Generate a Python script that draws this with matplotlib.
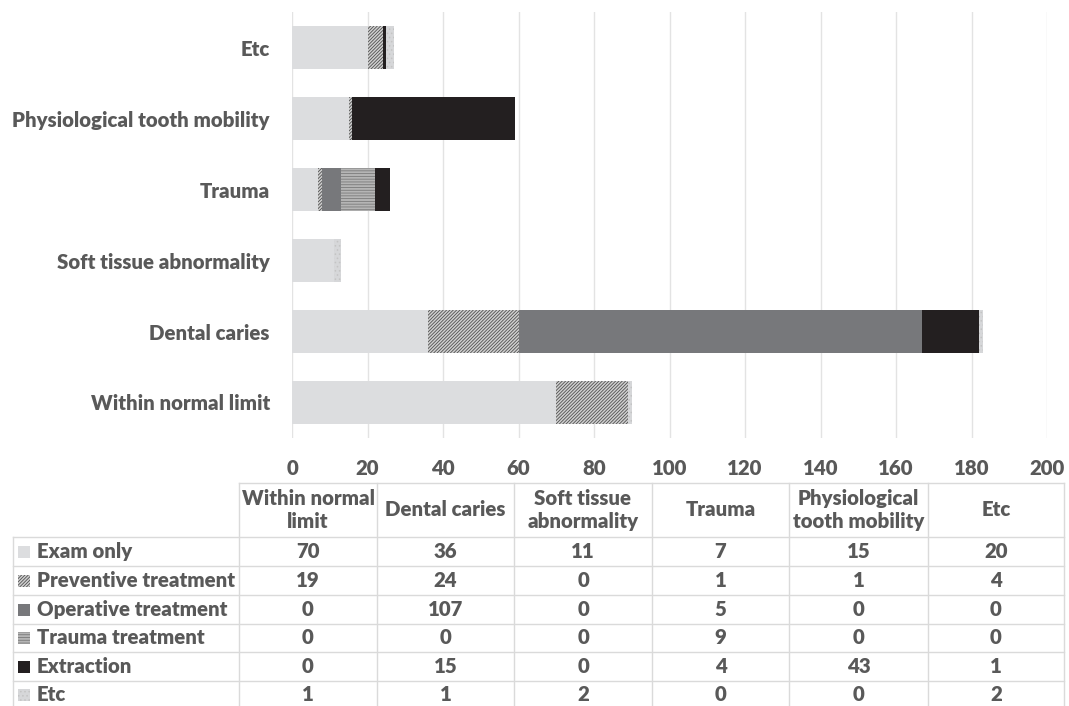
import matplotlib.pyplot as plt
from matplotlib.patches import Rectangle
import numpy as np

# data
categories = ['Within normal limit', 'Dental caries', 'Soft tissue abnormality',
              'Trauma', 'Physiological tooth mobility', 'Etc']
table_headers = ['Within normal\nlimit', 'Dental caries', 'Soft tissue\nabnormality',
                 'Trauma', 'Physiological\ntooth mobility', 'Etc']
series_names = ['Exam only', 'Preventive treatment', 'Operative treatment',
                'Trauma treatment', 'Extraction', 'Etc']
exam_only = [70, 36, 11, 7, 15, 20]
preventive = [19, 24, 0, 1, 1, 4]
operative = [0, 107, 0, 5, 0, 0]
trauma_tx = [0, 0, 0, 9, 0, 0]
extraction = [0, 15, 0, 4, 43, 1]
etc = [1, 1, 2, 0, 0, 2]
x_ticks = [0, 20, 40, 60, 80, 100, 120, 140, 160, 180, 200]

series = [exam_only, preventive, operative, trauma_tx, extraction, etc]
# (face, hatch colour, hatch)
styles = [
    ('#dcdddf', '#dcdddf', None),
    ('#d0d0d0', '#505050', '//////////'),
    ('#77787b', '#77787b', None),
    ('#b5b5b5', '#7a7a7a', '------'),
    ('#231f20', '#231f20', None),
    ('#d6d7d9', '#c4c4c4', '....'),
]

txt = '#595959'
plt.rcParams['font.family'] = ['Lato', 'DejaVu Sans']
plt.rcParams['hatch.linewidth'] = 0.6
fs = 14.7

W, H = 1069, 706
fig = plt.figure(figsize=(W / 100, H / 100), dpi=100)
ax = fig.add_axes([292 / W, 1 - 438 / H, (1047 - 292) / W, (438 - 12) / H])

y = np.arange(len(categories))
left = np.zeros(len(categories))
for vals, (fc, hc, hatch) in zip(series, styles):
    vals = np.array(vals, dtype=float)
    ax.barh(y, vals, left=left, height=0.6, color=fc, edgecolor=hc,
            hatch=hatch, linewidth=0, zorder=3)
    left += vals

ax.set_xlim(0, 200)
ax.set_ylim(-0.5, 5.5)
ax.set_xticks(x_ticks)
ax.set_xticklabels([str(t) for t in x_ticks], fontsize=fs, fontweight='heavy', color=txt)
ax.set_yticks(y)
ax.set_yticklabels(categories, fontsize=fs, fontweight='heavy', color=txt)
ax.tick_params(length=0, axis='y', pad=16)
ax.tick_params(length=0, axis='x', pad=15)
ax.grid(axis='x', color='#e3e3e3', linewidth=1, zorder=0)
for s in ax.spines.values():
    s.set_visible(False)

# data table drawn in pixel coordinates
tax = fig.add_axes([0, 0, 1, 1])
tax.set_xlim(0, W)
tax.set_ylim(H, 0)
tax.axis('off')

col_edges = [239, 377, 514, 652, 789, 928, 1064]
row_edges = [483, 537, 566, 595, 624, 652, 681, 710]
label_left = 13
line_c = '#dadada'

# horizontal lines
tax.plot([col_edges[0], col_edges[-1]], [row_edges[0]] * 2, color=line_c, lw=1)
for r in row_edges[1:-1]:
    tax.plot([label_left, col_edges[-1]], [r, r], color=line_c, lw=1)
# vertical lines
for c in col_edges:
    tax.plot([c, c], [row_edges[0], row_edges[-1]], color=line_c, lw=1)
tax.plot([label_left, label_left], [row_edges[1], row_edges[-1]], color=line_c, lw=1)

for j, h in enumerate(table_headers):
    cx = (col_edges[j] + col_edges[j + 1]) / 2
    cy = (row_edges[0] + row_edges[1]) / 2
    tax.text(cx, cy, h, ha='center', va='center', fontsize=fs, fontweight='heavy',
             color=txt, linespacing=1.25)

for i, (name, vals, (fc, hc, hatch)) in enumerate(zip(series_names, series, styles)):
    top = row_edges[i + 1]
    cy = (row_edges[i + 1] + row_edges[i + 2]) / 2
    if i == len(series_names) - 1:
        cy = (top + 706) / 2 + 1
    tax.add_patch(Rectangle((18, cy - 6), 12, 12, facecolor=fc, edgecolor=hc,
                            hatch=hatch, linewidth=0))
    tax.text(37, cy, name, ha='left', va='center', fontsize=fs,
             fontweight='heavy', color=txt)
    for j, v in enumerate(vals):
        cx = (col_edges[j] + col_edges[j + 1]) / 2
        tax.text(cx, cy, str(v), ha='center', va='center', fontsize=fs,
                 fontweight='heavy', color=txt)

fig.savefig('out.png', dpi=100)
